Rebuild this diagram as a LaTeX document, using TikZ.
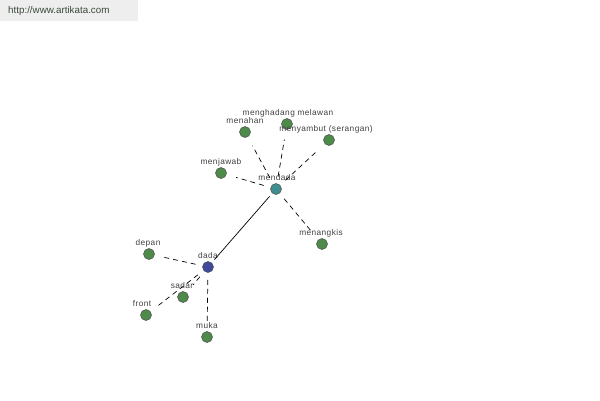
\documentclass[tikz,border=0pt]{standalone}
\usepackage{fontspec}
\setmainfont{Liberation Sans}
\newfontfamily\lblfont[LetterSpace=5]{Liberation Sans}
\definecolor{leafgreen}{HTML}{4E8A4A}
\definecolor{hubteal}{HTML}{3F8F90}
\definecolor{hubblue}{HTML}{3F4A9A}
\definecolor{labelgray}{HTML}{404040}
\definecolor{headbg}{HTML}{EEEEEE}
\definecolor{headtext}{HTML}{3A4A3A}
\begin{document}
\begin{tikzpicture}[x=1pt,y=-1pt,
  vtx/.style={circle,draw=black!70,line width=0.5pt,minimum size=11pt,inner sep=0pt},
  leaf/.style={vtx,fill=leafgreen},
  lbl/.style={font=\lblfont\fontsize{8.3}{9}\selectfont,text=labelgray,inner sep=0pt},
  dashedge/.style={dashed,dash pattern=on 5pt off 4pt,line width=0.7pt,shorten <=7pt,shorten >=10pt},
  solidedge/.style={line width=0.7pt,shorten <=4pt,shorten >=4pt}]
\useasboundingbox (0,0) rectangle (600,400);
\fill[white] (0,0) rectangle (600,400);
\node[fill=headbg,minimum width=138pt,minimum height=21pt,anchor=north west,inner sep=0pt] (head) at (0,0) {};
\node[anchor=west,font=\fontsize{9.8}{11}\selectfont,text=headtext,inner sep=0pt] (url) at (8,11) {http://www.artikata.com};

\node[vtx,fill=hubteal] (mendada) at (276,189) {};
\node[vtx,fill=hubblue] (dada) at (208,267) {};
\node[leaf] (menahan) at (245,132) {};
\node[leaf] (menghadang) at (287,124) {};
\node[leaf] (menyambut) at (329,140) {};
\node[leaf] (menjawab) at (221,173) {};
\node[leaf] (menangkis) at (322,244) {};
\node[leaf] (depan) at (149,254) {};
\node[leaf] (sadar) at (183,297) {};
\node[leaf] (front) at (146,315) {};
\node[leaf] (muka) at (207,337) {};

\node[lbl] (lmendada) at (277,178) {mendada};
\node[lbl] (ldada) at (208,256) {dada};
\node[lbl] (lmenahan) at (245,121) {menahan};
\node[lbl] (lmenghadang) at (288,113) {menghadang melawan};
\node[lbl] (lmenyambut) at (326,129) {menyambut (serangan)};
\node[lbl] (lmenjawab) at (221,162) {menjawab};
\node[lbl] (lmenangkis) at (321,233) {menangkis};
\node[lbl] (ldepan) at (148,243) {depan};
\node[lbl] (lsadar) at (182,286) {sadar};
\node[lbl] (lfront) at (142,304) {front};
\node[lbl] (lmuka) at (207,326) {muka};

\draw[solidedge] (mendada) -- (dada);
\draw[dashedge] (mendada) -- (menahan);
\draw[dashedge] (mendada) -- (menghadang);
\draw[dashedge] (mendada) -- (menyambut);
\draw[dashedge] (mendada) -- (menjawab);
\draw[dashedge] (mendada) -- (menangkis);
\draw[dashedge] (dada) -- (depan);
\draw[dashedge] (dada) -- (sadar);
\draw[dashedge] (dada) -- (front);
\draw[dashedge] (dada) -- (muka);
\end{tikzpicture}
\end{document}
